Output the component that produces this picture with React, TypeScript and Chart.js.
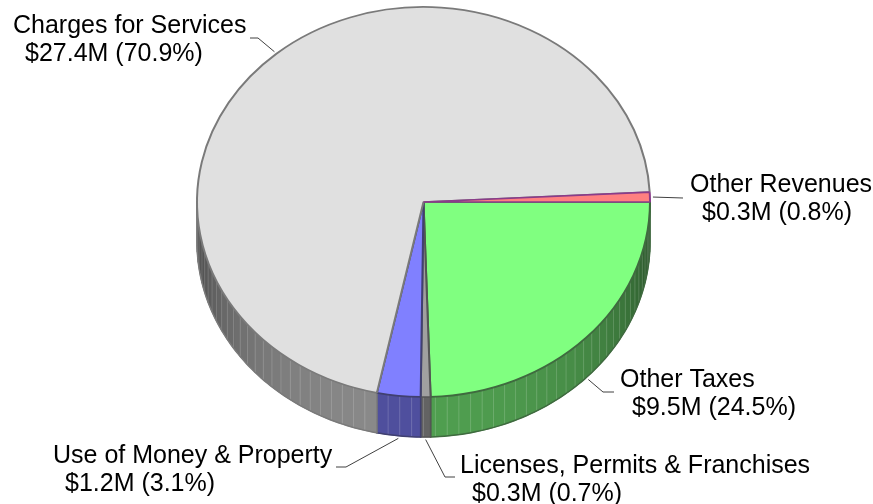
import React, { useEffect, useRef } from 'react';
import { Chart, registerables } from 'chart.js';

Chart.register(...registerables);

// ---- data ----
const categories = [
  'Other Taxes',
  'Licenses, Permits & Franchises',
  'Use of Money & Property',
  'Charges for Services',
  'Other Revenues',
];
const amounts = ['$9.5M', '$0.3M', '$1.2M', '$27.4M', '$0.3M'];
const percents = [24.5, 0.7, 3.1, 70.9, 0.8];

// ---- styles ----
const topColors = ['#80ff80', '#a0a0a0', '#8080ff', '#e0e0e0', '#ff8080'];
const edgeColors = ['#3f6a3f', '#555555', '#404070', '#7a7a7a', '#8a3c8a'];

// label layout: elbow point, end point of leader, text position
const labelLayout = [
  { elbow: [603, 392], end: [614, 392], x: 620, y: 387 },
  { elbow: [445, 477], end: [455, 477], x: 460, y: 473 },
  { elbow: [346, 467], end: [336, 467], x: 53, y: 463 },
  { elbow: [258, 38], end: [250, 38], x: 13, y: 33 },
  { elbow: [683, 198], end: [683, 198], x: 690, y: 192 },
];

const DEPTH = 40;
const SQUASH = 195 / 226.5;
const STEP = (3 * Math.PI) / 180;

function hexToRgb(hex: string) {
  const n = parseInt(hex.slice(1), 16);
  return [(n >> 16) & 255, (n >> 8) & 255, n & 255];
}
function shade(hex: string, f: number) {
  const [r, g, b] = hexToRgb(hex);
  return `rgb(${Math.round(r * f)},${Math.round(g * f)},${Math.round(b * f)})`;
}

function drawSide(
  ctx: CanvasRenderingContext2D,
  cx: number,
  cy: number,
  R: number,
  s0: number,
  s1: number,
  color: string,
  edge: string
) {
  const ry = R * SQUASH;
  const pt = (a: number, d: number) => [cx + R * Math.cos(a), cy + ry * Math.sin(a) + d];
  const breaks: number[] = [s0];
  let k = Math.floor(s0 / STEP) + 1;
  while (k * STEP < s1) {
    breaks.push(k * STEP);
    k++;
  }
  breaks.push(s1);
  for (let i = 0; i < breaks.length - 1; i++) {
    const b0 = breaks[i];
    const b1 = breaks[i + 1];
    const mid = (b0 + b1) / 2;
    const f = 0.27 + 0.35 * Math.pow(Math.sin(mid), 0.8);
    ctx.beginPath();
    const n = 4;
    for (let j = 0; j <= n; j++) {
      const a = b0 + ((b1 - b0) * j) / n;
      const p = pt(a, -1);
      if (j === 0) ctx.moveTo(p[0], p[1]);
      else ctx.lineTo(p[0], p[1]);
    }
    for (let j = n; j >= 0; j--) {
      const a = b0 + ((b1 - b0) * j) / n;
      const p = pt(a, DEPTH);
      ctx.lineTo(p[0], p[1]);
    }
    ctx.closePath();
    ctx.fillStyle = shade(color, f);
    ctx.fill();
    ctx.strokeStyle = shade(color, f);
    ctx.lineWidth = 0.8;
    ctx.stroke();
  }
  // stripes
  ctx.strokeStyle = 'rgba(255,255,255,0.16)';
  ctx.lineWidth = 1;
  for (let i = 1; i < breaks.length - 1; i++) {
    const p0 = pt(breaks[i], 0);
    const p1 = pt(breaks[i], DEPTH);
    ctx.beginPath();
    ctx.moveTo(p0[0], p0[1]);
    ctx.lineTo(p1[0], p1[1]);
    ctx.stroke();
  }
  // outline
  ctx.beginPath();
  const a = pt(s0, 0);
  ctx.moveTo(a[0], a[1]);
  const steps = Math.max(2, Math.ceil((s1 - s0) / 0.02));
  for (let j = 0; j <= steps; j++) {
    const p = pt(s0 + ((s1 - s0) * j) / steps, DEPTH);
    ctx.lineTo(p[0], p[1]);
  }
  const e = pt(s1, 0);
  ctx.lineTo(e[0], e[1]);
  ctx.strokeStyle = edge;
  ctx.lineWidth = 1.5;
  ctx.stroke();
}

const pie3dPlugin = {
  id: 'pie3d',
  beforeDatasetsDraw(chart: any) {
    const ctx: CanvasRenderingContext2D = chart.ctx;
    const arcs = chart.getDatasetMeta(0).data;
    arcs.forEach((arc: any, i: number) => {
      const { x, y, outerRadius, startAngle, endAngle } = arc.getProps(
        ['x', 'y', 'outerRadius', 'startAngle', 'endAngle'],
        true
      );
      for (const off of [-2 * Math.PI, 0, 2 * Math.PI]) {
        const s0 = Math.max(startAngle, off);
        const s1 = Math.min(endAngle, off + Math.PI);
        if (s1 > s0) {
          drawSide(ctx, x, y, outerRadius, s0 - off, s1 - off, topColors[i], edgeColors[i]);
        }
      }
    });
    const cy = arcs.length ? arcs[0].y : 0;
    ctx.save();
    ctx.translate(0, cy);
    ctx.scale(1, SQUASH);
    ctx.translate(0, -cy);
  },
  afterDatasetsDraw(chart: any) {
    const ctx: CanvasRenderingContext2D = chart.ctx;
    ctx.restore();
    const arcs = chart.getDatasetMeta(0).data;
    ctx.save();
    arcs.forEach((arc: any, i: number) => {
      const { x, y, outerRadius, startAngle, endAngle } = arc.getProps(
        ['x', 'y', 'outerRadius', 'startAngle', 'endAngle'],
        true
      );
      const mid = (startAngle + endAngle) / 2;
      const sn = Math.sin(mid);
      const cs = Math.cos(mid);
      const px = x + (outerRadius + 3) * cs;
      const py = y + (outerRadius + 3) * SQUASH * sn + (sn > 0 ? DEPTH : 0);
      const L = labelLayout[i];
      ctx.beginPath();
      ctx.moveTo(px, py);
      ctx.lineTo(L.elbow[0], L.elbow[1]);
      ctx.lineTo(L.end[0], L.end[1]);
      ctx.strokeStyle = '#404040';
      ctx.lineWidth = 1;
      ctx.stroke();
      ctx.fillStyle = '#000000';
      ctx.font = '25px "Liberation Sans", Arial, sans-serif';
      ctx.textAlign = 'left';
      ctx.textBaseline = 'alphabetic';
      ctx.fillText(categories[i], L.x, L.y);
      ctx.fillText(`${amounts[i]} (${percents[i].toFixed(1)}%)`, L.x + 12, L.y + 28);
    });
    ctx.restore();
  },
};

export default function App() {
  const ref = useRef<HTMLCanvasElement>(null);
  useEffect(() => {
    if (!ref.current) return;
    const chart = new Chart(ref.current, {
      type: 'pie',
      data: {
        labels: categories,
        datasets: [
          {
            data: percents,
            backgroundColor: topColors,
            borderColor: edgeColors,
            borderWidth: 2,
          },
        ],
      },
      options: {
        responsive: false,
        maintainAspectRatio: false,
        animation: false,
        devicePixelRatio: 1,
        rotation: 90,
        radius: 226.5,
        layout: { padding: { left: 197, right: 223, top: 0, bottom: 100 } },
        plugins: { legend: { display: false }, tooltip: { enabled: false } },
      } as any,
      plugins: [pie3dPlugin as any],
    });
    return () => chart.destroy();
  }, []);
  return (
    <div style={{ position: 'absolute', left: 0, top: 0, width: 873, height: 504, background: '#fff' }}>
      <canvas ref={ref} width={873} height={504} style={{ display: 'block' }} />
    </div>
  );
}
